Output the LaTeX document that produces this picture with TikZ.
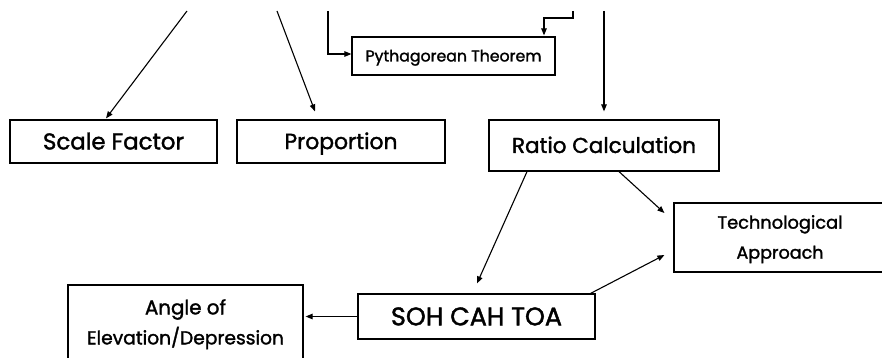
\documentclass[tikz,border=0pt]{standalone}
\usepackage{fontspec}
\setmainfont{Poppins}[FakeBold=1.6]
\usetikzlibrary{arrows.meta}
\newcommand\fw[2]{\resizebox{#1pt}{!}{\smash{#2}\vphantom{A}}}
\tikzset{
  box/.style={draw, line width=1.2pt, inner sep=0pt, align=center, font=\fontsize{16}{30}\selectfont},
  arr/.style={line width=1.1pt, -{Triangle[length=7pt,width=5.5pt]}}
}
\begin{document}
\begin{tikzpicture}[x=1pt,y=-1pt]
\useasboundingbox (0,0) rectangle (882,358);
\clip (0,0) rectangle (882,358);
\node[box, minimum width=207pt, minimum height=43pt] (sf) at (113.5,141.5) {\fw{141}{Scale Factor}};
\node[box, minimum width=208pt, minimum height=43pt] (pr) at (341,141.5) {\fw{113}{Proportion}};
\node[box, minimum width=203pt, minimum height=38pt] (py) at (453.5,56) {\fw{176}{Pythagorean Theorem}};
\node[box, minimum width=230pt, minimum height=51pt] (rc) at (604,145.5) {\fw{184}{Ratio Calculation}};
\node[box, minimum width=212pt, minimum height=69pt] (te) at (780,237.5) {\fw{125}{Technological}\\\fw{87}{Approach}};
\node[box, minimum width=237pt, minimum height=45pt] (soh) at (476.5,316.5) {\fw{171}{SOH CAH TOA}};
\node[box, minimum width=235pt, minimum height=75pt] (an) at (185.5,322.5) {\fw{81}{Angle of}\\\fw{197}{Elevation/Depression}};
\coordinate (c1) at (187,11);
\coordinate (c2) at (277,11);
\coordinate (c3) at (328,11);
\coordinate (c4) at (573,11);
\coordinate (c5) at (604,11);
\draw[arr] (c1) -- ([xshift=-7.5pt,yshift=1pt]sf.north);
\draw[arr] (c2) -- ([xshift=-26pt,yshift=8pt]pr.north);
\draw[arr] (c3) |- ([yshift=2pt]py.west);
\draw[arr] (c4) -- ++(0,7) -| ([xshift=90.5pt,yshift=1pt]py.north);
\draw[arr] (c5) -- ([yshift=8pt]rc.north);
\draw[arr] ([xshift=-77pt]rc.south) -- ([xshift=0.5pt,yshift=10pt]soh.north);
\draw[arr] ([xshift=15pt]rc.south) -- ([xshift=-9pt,yshift=24.5pt]te.west);
\draw[arr] ([xshift=-5pt]soh.north east) -- ([xshift=-9pt,yshift=-17.5pt]te.west);
\draw[arr, shorten >=2pt] (soh.west) -- (soh.west -| an.east);
\end{tikzpicture}
\end{document}
